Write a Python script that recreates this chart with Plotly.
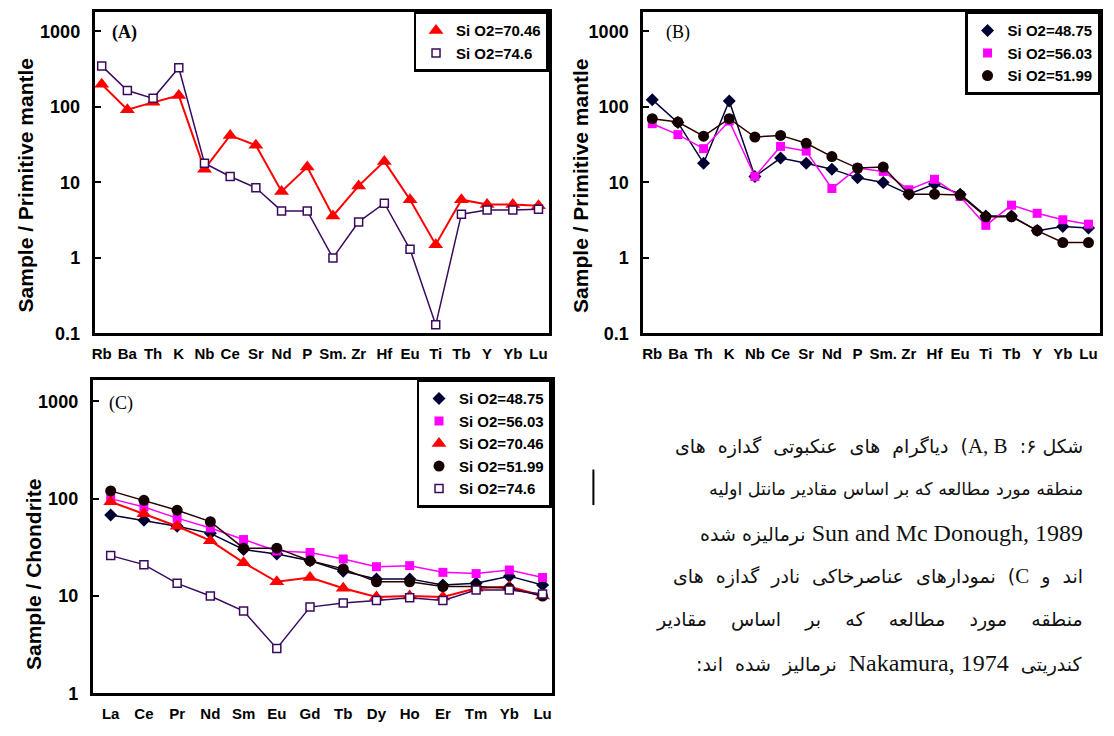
import plotly.graph_objects as go

W, H = 1114, 736

# ---------------- data ----------------
pm_elements = ["Rb", "Ba", "Th", "K", "Nb", "Ce", "Sr", "Nd", "P", "Sm.", "Zr", "Hf",
               "Eu", "Ti", "Tb", "Y", "Yb", "Lu"]
ree_elements = ["La", "Ce", "Pr", "Nd", "Sm", "Eu", "Gd", "Tb", "Dy", "Ho", "Er", "Tm", "Yb", "Lu"]

# Panel A (primitive-mantle normalised)
a_si7046 = [200, 92, 115, 142, 15, 42, 31, 7.6, 16, 3.6, 9, 19, 5.9, 1.5, 5.9, 5.1, 5.1, 4.9]
a_si746 = [350, 165, 130, 330, 18, 12, 8.5, 4.2, 4.2, 1.0, 3.0, 5.3, 1.3, 0.13, 3.8, 4.3, 4.3, 4.4]

# Panel B (primitive-mantle normalised)
b_si4875 = [125, 62, 18, 120, 12, 21, 18, 15, 11.5, 10, 7, 9.5, 7, 3.6, 3.6, 2.3, 2.6, 2.5]
b_si5603 = [60, 43, 28, 65, 12, 30, 26, 8.3, 15.5, 14, 8, 11, 6.5, 2.7, 5, 3.9, 3.2, 2.8]
b_si5199 = [70, 63, 41, 70, 40, 42, 33, 22, 15.5, 16, 7, 7, 6.8, 3.5, 3.5, 2.3, 1.6, 1.6]

# Panel C (chondrite normalised)
c_si4875 = [68, 60, 52, 44, 30, 27, 23, 18, 15, 15, 13, 13.5, 16, 13]
c_si5603 = [100, 82, 63, 50, 38, 29, 28, 24, 20, 20.5, 17.5, 17, 18.5, 15.5]
c_si7046 = [93, 70, 52, 37, 22, 14, 15.5, 12, 9.8, 10, 9.8, 12, 12.5, 10]
c_si5199 = [120, 96, 76, 58, 31, 31, 23, 19, 14, 14, 12.5, 12.5, 12, 10]
c_si746 = [26, 21, 13.5, 10, 7, 2.9, 7.7, 8.5, 9, 9.6, 9, 11.5, 11.5, 10.5]

log_ticks_ab = [0.1, 1, 10, 100, 1000]
log_ticks_c = [1, 10, 100, 1000]

LAT = "<span style='font-family:Liberation Serif;font-size:%dpx'>%s</span>"
caption_lines = [
    "شکل ۶:  " + LAT % (21, "A, B") + ")  دیاگرام  های  عنکبوتی  گدازه  های",
    "منطقه مورد مطالعه که بر اساس مقادیر مانتل اولیه",
    LAT % (24, "Sun and Mc Donough, 1989") + " نرمالیزه شده",
    "اند  و  " + LAT % (21, "C") + ")  نمودارهای  عناصرخاکی  نادر  گدازه  های",
    "منطقه    مورد    مطالعه    که    بر    اساس    مقادیر",
    "کندریتی  " + LAT % (24, "Nakamura, 1974") + "  نرمالیز  شده  اند:",
]
caption_sizes = [19, 17.5, 19, 19, 19, 19]

# ---------------- styles ----------------
S_RED = dict(color="#ff0000", symbol="triangle-up", size=13)
S_PUR = dict(color="white", symbol="square", size=8, line=dict(color="#3a0a5e", width=1.5))
S_DIA = dict(color="#000033", symbol="diamond", size=10)
S_MAG = dict(color="#ff00ff", symbol="square", size=9)
S_CIR = dict(color="#150000", symbol="circle", size=11)

L_RED = dict(color="#ff0000", width=2)
L_PUR = dict(color="#3a0a5e", width=1.5)
L_DIA = dict(color="#000033", width=1.5)
L_MAG = dict(color="#ff00ff", width=1.5)
L_CIR = dict(color="#2a0000", width=1.5)

fig = go.Figure()


def add(xcats, yvals, marker, line, name, xa, ya, leg):
    fig.add_trace(go.Scatter(x=xcats, y=yvals, mode="lines+markers", marker=marker, line=line,
                             name=name, showlegend=False, xaxis=xa, yaxis=ya, cliponaxis=False))
    fig.add_trace(go.Scatter(x=[None], y=[None], mode="markers", marker=marker, name=name,
                             showlegend=True, legend=leg, xaxis=xa, yaxis=ya))


# Panel A
add(pm_elements, a_si7046, S_RED, L_RED, "Si O2=70.46", "x", "y", "legend")
add(pm_elements, a_si746, S_PUR, L_PUR, "Si O2=74.6", "x", "y", "legend")
# Panel B
add(pm_elements, b_si4875, S_DIA, L_DIA, "Si O2=48.75", "x2", "y2", "legend2")
add(pm_elements, b_si5603, S_MAG, L_MAG, "Si O2=56.03", "x2", "y2", "legend2")
add(pm_elements, b_si5199, S_CIR, L_CIR, "Si O2=51.99", "x2", "y2", "legend2")
# Panel C
add(ree_elements, c_si4875, S_DIA, L_DIA, "Si O2=48.75", "x3", "y3", "legend3")
add(ree_elements, c_si5603, S_MAG, L_MAG, "Si O2=56.03", "x3", "y3", "legend3")
add(ree_elements, c_si7046, S_RED, L_RED, "Si O2=70.46", "x3", "y3", "legend3")
add(ree_elements, c_si5199, S_CIR, L_CIR, "Si O2=51.99", "x3", "y3", "legend3")
add(ree_elements, c_si746, S_PUR, L_PUR, "Si O2=74.6", "x3", "y3", "legend3")

FONT = "Liberation Sans, Arial, sans-serif"


def px_x(v):
    return v / W


def px_y(v):
    return 1 - v / H


def xaxis(l, r, rng, anchor):
    return dict(domain=[px_x(l), px_x(r)], type="category", range=rng, anchor=anchor,
                showline=True, mirror=True, linewidth=3, linecolor="black",
                showgrid=False, zeroline=False, ticks="", ticklabelstandoff=5,
                tickfont=dict(family=FONT, size=15, color="black", weight="bold"))


def yaxis(t, b, rng, ticks, anchor):
    return dict(domain=[px_y(b), px_y(t)], type="log", range=rng, anchor=anchor,
                tickvals=ticks, ticktext=[("%g" % v) for v in ticks],
                showline=True, mirror=True, linewidth=3, linecolor="black",
                showgrid=False, zeroline=False, ticks="inside", ticklen=6, tickwidth=1.5,
                tickcolor="black", ticklabelstandoff=8,
                tickfont=dict(family=FONT, size=18, color="black", weight="bold"))


def legend(xr, yt):
    return dict(x=px_x(xr), y=px_y(yt), xanchor="right", yanchor="top",
                bgcolor="white", bordercolor="black", borderwidth=2.5,
                font=dict(family=FONT, size=15, color="black", weight="bold"),
                itemwidth=30, tracegroupgap=0)


annotations = []
# y axis titles
for x, y, txt in [(23, 188, "Sample / Primitive mantle"), (579, 188, "Sample / Primitive mantle"),
                  (30, 582, "Sample / Chondrite")]:
    annotations.append(dict(x=px_x(x), y=px_y(y), xref="paper", yref="paper", text=txt,
                            textangle=-90, showarrow=False, xanchor="center", yanchor="middle",
                            font=dict(family=FONT, size=21, color="black", weight="bold")))
# panel letters
for x, y, txt in [(107, 33, "(A)"), (663, 33, "(B)"), (104, 409, "(C)")]:
    annotations.append(dict(x=px_x(x), y=px_y(y), xref="paper", yref="paper", text=txt,
                            showarrow=False, xanchor="left", yanchor="middle",
                            font=dict(family="Liberation Serif, Times New Roman, serif", size=18,
                                      color="black", weight="bold" if txt == "(A)" else "normal")))
# caption
for i, (line, fs) in enumerate(zip(caption_lines, caption_sizes)):
    annotations.append(dict(x=px_x(1085), y=px_y(452 + 44 * i), xref="paper", yref="paper",
                            text="\u202b" + line + "\u202c", showarrow=False,
                            xanchor="right", yanchor="middle", align="right",
                            font=dict(family="DejaVu Sans, sans-serif", size=fs, color="#111111")))

fig.update_layout(
    width=W, height=H, margin=dict(l=0, r=0, t=0, b=0),
    paper_bgcolor="white", plot_bgcolor="white",
    xaxis=xaxis(92, 547, [-0.27, 17.39], "y"),
    yaxis=yaxis(12, 338, [-1, 3.26], log_ticks_ab, "x"),
    xaxis2=xaxis(642, 1100, [-0.35, 17.45], "y2"),
    yaxis2=yaxis(12, 338, [-1, 3.26], log_ticks_ab, "x2"),
    xaxis3=xaxis(90, 550, [-0.54, 13.27], "y3"),
    yaxis3=yaxis(385, 703, [0, 3.22], log_ticks_c, "x3"),
    legend=legend(547, 12),
    legend2=legend(1100, 12),
    legend3=legend(550, 385),
    annotations=annotations,
    shapes=[dict(type="line", xref="paper", yref="paper", x0=px_x(592), x1=px_x(592),
                 y0=px_y(476), y1=px_y(512), line=dict(color="black", width=2))],
)

fig.write_html("out.html")
